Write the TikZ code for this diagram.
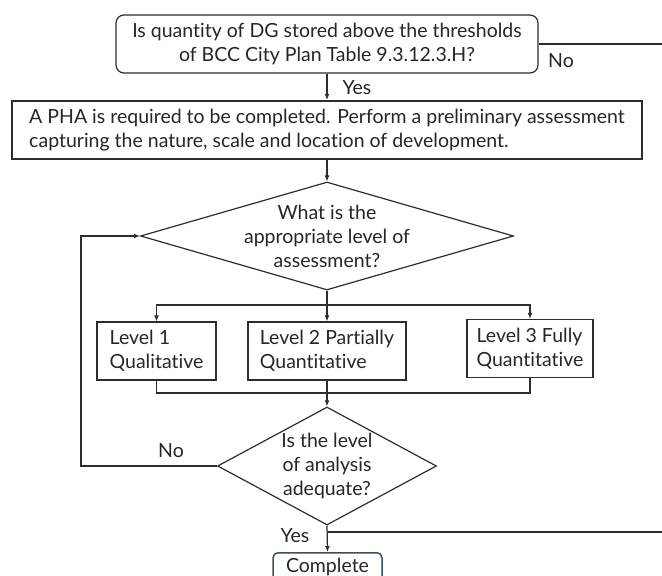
\documentclass[tikz,border=0pt]{standalone}
\usepackage{fontspec}
\setmainfont{Lato}[Ligatures=NoCommon]
\usetikzlibrary{positioning,arrows.meta,shapes.geometric}
\definecolor{lineclr}{RGB}{45,45,45}
\definecolor{doneclr}{RGB}{55,80,100}

\begin{document}
\begin{tikzpicture}[
  x=1pt, y=-1pt,
  font=\fontsize{19.5}{24}\selectfont,
  question/.style={
    rectangle, rounded corners=8pt, minimum width=422pt, minimum height=58pt,
    draw=lineclr, line width=1.2pt, align=center, text=black!85
  },
  task/.style={
    rectangle, minimum width=630pt, minimum height=58pt,
    draw=lineclr, line width=2pt, align=left, text=black!85
  },
  level/.style={
    rectangle, minimum height=58pt, draw=lineclr, line width=1.2pt,
    align=left, text=black!85
  },
  decision/.style={diamond, draw=lineclr, line width=1.2pt, inner sep=0pt},
  qtext/.style={align=center, text=black!85},
  endbox/.style={
    rectangle, rounded corners=5pt, minimum width=109pt, inner sep=4pt,
    text height=16pt, text depth=20pt,
    draw=doneclr, line width=1.5pt, text=black!85
  },
  answer/.style={text=black!85},
  arrow/.style={-{Latex[length=6pt, width=5pt]}, line width=1.2pt, lineclr},
  line/.style={line width=1.2pt, lineclr}
]
\clip (0,0) rectangle (662,576);

% === Main column ===
\node[question] (q1) at (327,44)
  {Is quantity of DG stored above the thresholds\\of BCC City Plan Table 9.3.12.3.H?};
\node[task] (pha) at (327,130)
  {A PHA is required to be completed. Perform a preliminary assessment\\capturing the nature, scale and location of development.};
\node[decision, minimum width=373pt, minimum height=108pt,
  label={[qtext]center:What is the\\appropriate level of\\assessment?}] (d1) at (327,236) {};

% === Levels ===
\node[level, minimum width=119pt] (l1) at (156.5,351) {Level 1\\Qualitative};
\node[level, minimum width=158pt] (l2) at (327,351) {Level 2 Partially\\Quantitative};
\node[level, minimum width=126pt] (l3) at (530,348.5) {Level 3 Fully\\Quantitative};

\node[decision, minimum width=219pt, minimum height=118pt,
  label={[qtext]center:Is the level\\of analysis\\adequate?}] (d2) at (327,466) {};
\node[endbox, anchor=north] (done) at (327.5,552) {Complete};

% === Helper points ===
\coordinate (qexit) at (662,44);
\coordinate (fork) at (327,305);
\coordinate (join) at (327,393);
\coordinate (back) at (81,466);
\coordinate (ysplit) at (327,532);
\coordinate (yexit) at (662,532);

% === Connectors ===
\draw[line] (q1.east) -- (qexit);
\node[answer] (qno) at (561,61) {No};
\draw[arrow] (q1) -- (pha);
\node[answer] (qyes) at (357,88) {Yes};
\draw[arrow] (pha) -- (d1);

\draw[line] (d1.south) -- (fork);
\draw[arrow] (fork) -| (l1.north);
\draw[arrow] (fork) -| (l3.north);
\draw[arrow] (fork) -- (l2.north);

\draw[line] (l1.south) |- (join) -| (l3.south);
\draw[arrow] (l2.south) -- (d2.north);

% No: back to the level question
\draw[arrow] (d2.west) -- (back) |- (d1.west);
\node[answer] (dno) at (171,451) {No};

% Yes: finish
\draw[arrow] (d2.south) -- (done.north);
\node[answer] (dyes) at (295,536) {Yes};
\draw[line] (ysplit) -- (yexit);

\end{tikzpicture}
\end{document}
